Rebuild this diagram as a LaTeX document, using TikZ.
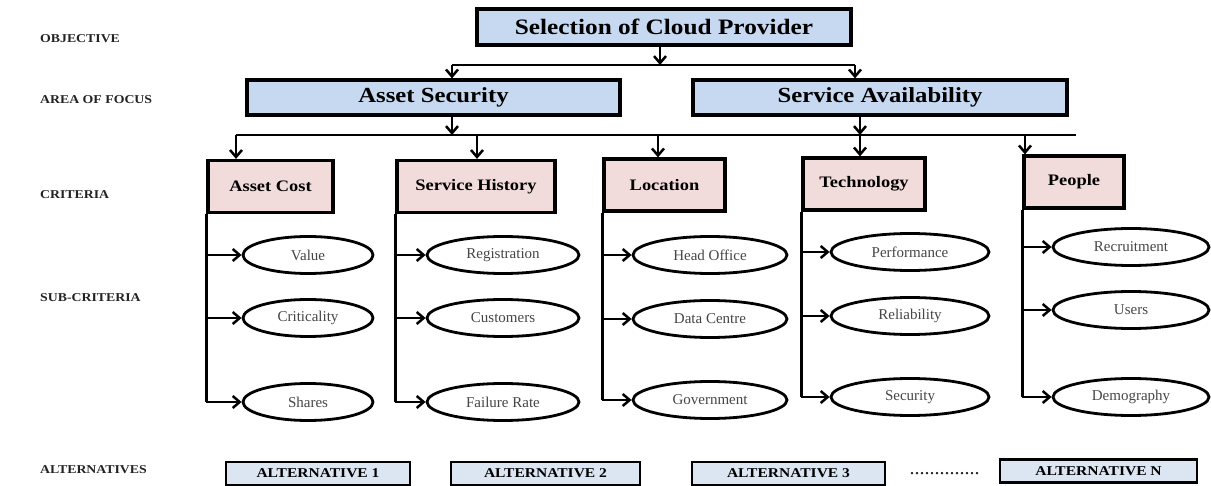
\documentclass[tikz,border=0pt]{standalone}
\usepackage{fontspec}
\setmainfont{Liberation Serif}
\newfontfamily\widefont{Liberation Serif}[FakeStretch=1.15]
\usetikzlibrary{shapes.geometric,arrows.meta}

\definecolor{areablue}{RGB}{198,217,241}
\definecolor{altblue}{RGB}{220,230,242}
\definecolor{critpink}{RGB}{242,220,219}
\definecolor{subgray}{RGB}{70,70,70}
\definecolor{lblgray}{RGB}{35,35,35}

\tikzset{
  lbl/.style={anchor=west, inner sep=0pt, text=lblgray,
    font=\widefont\bfseries\fontsize{12}{14}\selectfont},
  topbox/.style={draw, line width=3.2pt, fill=areablue, inner sep=0pt,
    font=\widefont\bfseries\fontsize{22}{24}\selectfont},
  areabox/.style={draw, line width=3.2pt, fill=areablue, inner sep=0pt,
    minimum height=35pt, font=\widefont\bfseries\fontsize{21.5}{24}\selectfont},
  critbox/.style={draw, line width=3.2pt, fill=critpink, inner sep=0pt,
    minimum height=52pt, font=\widefont\bfseries\fontsize{16}{18}\selectfont},
  subell/.style={draw, ellipse, line width=2.8pt, fill=white, inner sep=0pt,
    minimum height=37pt, text=subgray, font=\fontsize{15}{17}\selectfont},
  altbox/.style={draw, line width=2.8pt, fill=altblue, inner sep=0pt,
    minimum height=23pt, font=\widefont\bfseries\fontsize{13.5}{15}\selectfont},
  link/.style={line width=2.5pt},
  arr/.style={link, -{Straight Barb[length=7pt,width=12pt]}},
}

\begin{document}
\begin{tikzpicture}[x=1pt, y=-1pt]
\useasboundingbox (0,0) rectangle (1211,486);

% level labels
\node[lbl] (lobj)  at (40,39)  {OBJECTIVE};
\node[lbl] (larea) at (40,100) {AREA OF FOCUS};
\node[lbl] (lcrit) at (40,195) {CRITERIA};
\node[lbl] (lsub)  at (40,298) {SUB-CRITERIA};
\node[lbl] (lalt)  at (40,470) {ALTERNATIVES};

% objective and areas of focus
\node[topbox, minimum width=374pt, minimum height=36pt] (obj) at (664,27) {Selection of Cloud Provider};
\node[areabox, minimum width=373pt] (as) at (433.5,97.5) {Asset Security};
\node[areabox, minimum width=374pt] (sa) at (880,97.5) {Service Availability};

% criteria
\node[critbox, minimum width=125pt] (ac)  at (270.5,186.5) {Asset Cost};
\node[critbox, minimum width=158pt] (sh)  at (476,186.5) {Service History};
\node[critbox, minimum width=121pt] (loc) at (664.5,185)  {Location};
\node[critbox, minimum width=122pt] (tec) at (864,184)    {Technology};
\node[critbox, minimum width=100pt] (ppl) at (1074,182)   {People};

% sub-criteria
\node[subell, minimum width=130pt] (ac1) at (308,255) {Value};
\node[subell, minimum width=130pt] (ac2) at (308,318) {Criticality};
\node[subell, minimum width=130pt] (ac3) at (308,402) {Shares};
\node[subell, minimum width=152pt] (sh1) at (503,255) {Registration};
\node[subell, minimum width=152pt] (sh2) at (503,318) {Customers};
\node[subell, minimum width=152pt] (sh3) at (503,402) {Failure Rate};
\node[subell, minimum width=154pt] (lo1) at (710,255) {Head Office};
\node[subell, minimum width=154pt] (lo2) at (710,319) {Data Centre};
\node[subell, minimum width=154pt] (lo3) at (710,400) {Government};
\node[subell, minimum width=158pt] (te1) at (910,252) {Performance};
\node[subell, minimum width=158pt] (te2) at (910,316) {Reliability};
\node[subell, minimum width=158pt] (te3) at (910,397) {Security};
\node[subell, minimum width=156pt] (pe1) at (1131,247) {Recruitment};
\node[subell, minimum width=156pt] (pe2) at (1131,310) {Users};
\node[subell, minimum width=156pt] (pe3) at (1131,397) {Demography};

% alternatives
\node[altbox, minimum width=184pt] (alt1) at (318,473.5) {ALTERNATIVE 1};
\node[altbox, minimum width=189pt] (alt2) at (545.5,473.5) {ALTERNATIVE 2};
\node[altbox, minimum width=193pt] (alt3) at (788.5,473.5) {ALTERNATIVE 3};
\node[inner sep=0pt, text=lblgray, font=\fontsize{20}{22}\selectfont] (dots) at (944.5,474) {..............};
\node[altbox, minimum width=197pt] (altn) at (1098.5,471) {ALTERNATIVE N};

% objective to areas of focus
\coordinate (b1m) at (660,65);
\coordinate (b1l) at (452,65);
\coordinate (b1r) at (855,65);
\draw[arr] (obj.south -| b1m) -- (b1m);
\draw[link] (b1l) -- (b1r);
\draw[arr] (b1l) -- (b1l |- as.north);
\draw[arr] (b1r) -- (b1r |- sa.north);

% areas of focus to criteria
\coordinate (b2l) at (236,135);
\coordinate (b2r) at (1076,135);
\coordinate (b2as) at (452,135);
\coordinate (b2sa) at (860,135);
\coordinate (b2sh) at (477,135);
\coordinate (b2lo) at (658,135);
\coordinate (b2pe) at (1025,135);
\draw[link] (b2l) -- (b2r);
\draw[arr] (as.south -| b2as) -- (b2as);
\draw[arr] (sa.south -| b2sa) -- (b2sa);
\draw[arr] (b2l)  -- (b2l  |- ac.north);
\draw[arr] (b2sh) -- (b2sh |- sh.north);
\draw[arr] (b2lo) -- (b2lo |- loc.north);
\draw[arr] (b2sa) -- (b2sa |- tec.north);
\draw[arr] (b2pe) -- (b2pe |- ppl.north);

% criteria to sub-criteria
\foreach \c/\a/\b/\e in {ac/ac1/ac2/ac3, sh/sh1/sh2/sh3, loc/lo1/lo2/lo3,
                          tec/te1/te2/te3, ppl/pe1/pe2/pe3}{
  \draw[link] (\c.south west) -- (\c.south west |- \e.west);
  \draw[arr] (\c.south west |- \a.west) -- (\a.west);
  \draw[arr] (\c.south west |- \b.west) -- (\b.west);
  \draw[arr] (\c.south west |- \e.west) -- (\e.west);
}
\end{tikzpicture}
\end{document}
